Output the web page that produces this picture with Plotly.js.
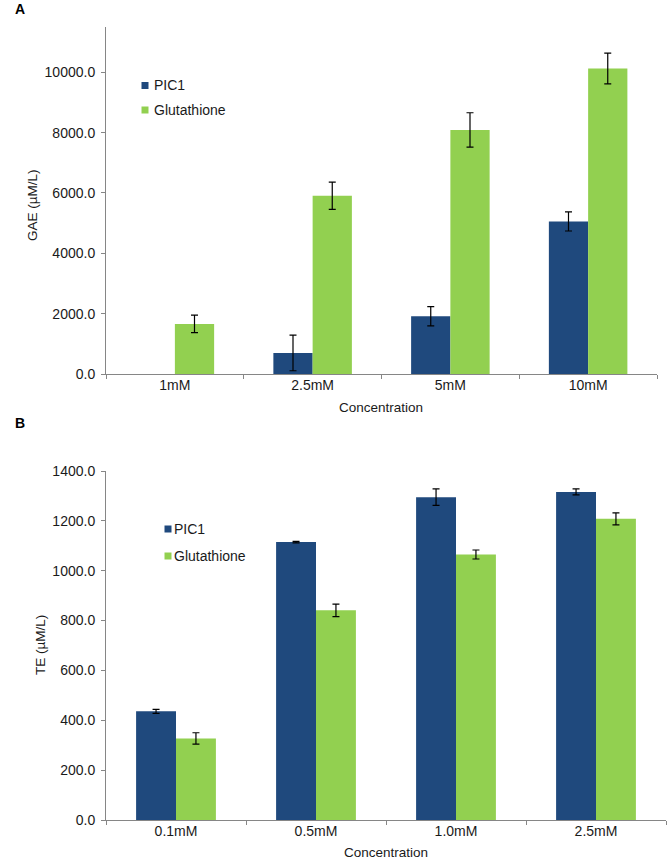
<!DOCTYPE html>
<html>
<head>
<meta charset="utf-8">
<script src="https://cdn.plot.ly/plotly-3.0.1.min.js"></script>
<style>html,body{margin:0;padding:0;background:#fff}#chart{width:667px;height:861px}</style>
</head>
<body>
<div id="chart"></div>
<script>
// Panel A data (GAE, µM/L)
const catsA = ['1mM', '2.5mM', '5mM', '10mM'];
const pic1A = [null, 697, 1915, 5055];
const pic1AErr = [null, 590, 320, 315];
const glutA = [1660, 5908, 8088, 10123];
const glutAErr = [290, 450, 570, 510];

// Panel B data (TE, µM/L)
const catsB = ['0.1mM', '0.5mM', '1.0mM', '2.5mM'];
const pic1B = [436, 1115, 1295, 1316];
const pic1BErr = [8, 3, 33, 12];
const glutB = [327, 841, 1065, 1208];
const glutBErr = [23, 25, 18, 24];

const seriesNames = ['PIC1', 'Glutathione'];
const colors = ['#1F497D', '#92D050'];

const W = 667, H = 861;
const px = x => x / W;
const py = y => 1 - y / H;

const FONT = 'Liberation Sans, Arial, sans-serif';
const TXT = '#1a1a1a';

function errBar(arr) {
  return {type: 'data', array: arr, visible: true, color: '#000', thickness: 1.2, width: 3.5};
}

const traces = [
  {type: 'bar', x: catsA, y: pic1A, name: seriesNames[0], marker: {color: colors[0]}, error_y: errBar(pic1AErr), xaxis: 'x', yaxis: 'y'},
  {type: 'bar', x: catsA, y: glutA, name: seriesNames[1], marker: {color: colors[1]}, error_y: errBar(glutAErr), xaxis: 'x', yaxis: 'y'},
  {type: 'bar', x: catsB, y: pic1B, name: seriesNames[0], marker: {color: colors[0]}, error_y: errBar(pic1BErr), xaxis: 'x2', yaxis: 'y2'},
  {type: 'bar', x: catsB, y: glutB, name: seriesNames[1], marker: {color: colors[1]}, error_y: errBar(glutBErr), xaxis: 'x2', yaxis: 'y2'}
];

const axisCommon = {
  showline: true, linecolor: '#868686', linewidth: 1,
  ticks: 'outside', ticklen: 4, tickcolor: '#868686',
  showgrid: false, zeroline: false,
  tickfont: {family: FONT, size: 14, color: TXT}
};

const layout = {
  width: W, height: H,
  margin: {l: 0, r: 0, t: 0, b: 0},
  paper_bgcolor: '#fff', plot_bgcolor: '#fff',
  showlegend: false,
  barmode: 'group', bargap: 0.43, bargroupgap: 0,
  xaxis: Object.assign({}, axisCommon, {domain: [px(106), px(657)], anchor: 'y', type: 'category', tickson: 'boundaries', ticklabelstandoff: -2}),
  yaxis: Object.assign({}, axisCommon, {domain: [py(374), py(27)], anchor: 'x', range: [0, 11500], dtick: 2000, tick0: 0, tickformat: '.1f', ticklabelstandoff: 3}),
  xaxis2: Object.assign({}, axisCommon, {domain: [px(106), px(666)], anchor: 'y2', type: 'category', tickson: 'boundaries', ticklabelstandoff: -2}),
  yaxis2: Object.assign({}, axisCommon, {domain: [py(820), py(471)], anchor: 'x2', range: [0, 1400], dtick: 200, tick0: 0, tickformat: '.1f', ticklabelstandoff: 3}),
  shapes: [],
  annotations: []
};

function addText(text, x, y, opts) {
  layout.annotations.push(Object.assign({
    text: text, xref: 'paper', yref: 'paper', x: px(x), y: py(y),
    xanchor: 'center', yanchor: 'middle', showarrow: false,
    font: {family: FONT, size: 13.5, color: TXT}
  }, opts || {}));
}

// Panel letters
addText('<b>A</b>', 20, 9, {font: {family: FONT, size: 14, color: '#000'}});
addText('<b>B</b>', 20, 423, {font: {family: FONT, size: 14, color: '#000'}});

// Axis titles
addText('GAE (µM/L)', 32, 205, {textangle: -90});
addText('Concentration', 381, 407);
addText('TE (µM/L)', 40, 645, {textangle: -90});
addText('Concentration', 386, 852);

// Legends
function addLegend(sqX, rows, textX) {
  rows.forEach((yc, i) => {
    layout.shapes.push({type: 'rect', xref: 'paper', yref: 'paper',
      x0: px(sqX), x1: px(sqX + 7), y0: py(yc - 3.5), y1: py(yc + 3.5),
      fillcolor: colors[i], line: {width: 0}});
    addText(seriesNames[i], textX, yc, {xanchor: 'left', font: {family: FONT, size: 14, color: TXT}});
  });
}
addLegend(141.5, [85.5, 110], 152);
addLegend(164.5, [529, 556], 172);

Plotly.newPlot('chart', traces, layout, {displayModeBar: false, staticPlot: true});
</script>
</body>
</html>
